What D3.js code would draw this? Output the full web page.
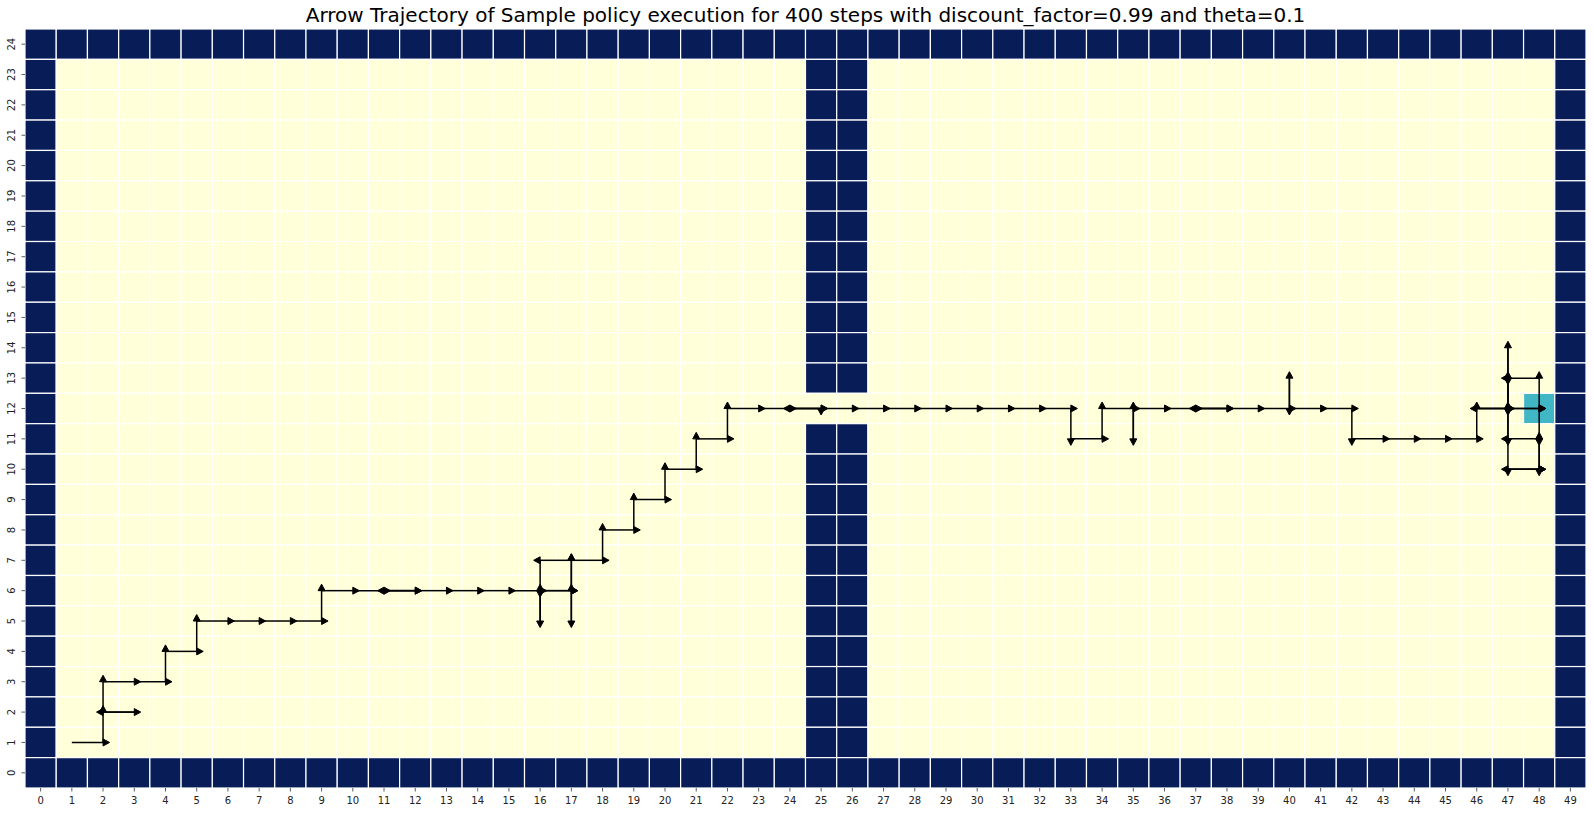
<!DOCTYPE html>
<html>
<head>
<meta charset="utf-8">
<script src="https://cdn.jsdelivr.net/npm/d3@7"></script>
<style>
  html, body { margin: 0; padding: 0; background: #ffffff; }
  svg { display: block; }
  text { font-family: "DejaVu Sans", sans-serif; }
</style>
</head>
<body>
<svg id="chart" width="1593" height="813"></svg>
<script>
// ---------------- DATA ----------------
const titleText = "Arrow Trajectory of Sample policy execution for 400 steps with discount_factor=0.99 and theta=0.1";

// column indices (x tick labels) and row indices (y tick labels)
const colLabels = d3.range(0, 50);
const rowLabels = d3.range(0, 25);

// grid rows listed from row 24 (top) down to row 0 (bottom); '#' wall, '.' free, 'G' goal
const gridRows = [
  "##################################################",
  "#........................##......................#",
  "#........................##......................#",
  "#........................##......................#",
  "#........................##......................#",
  "#........................##......................#",
  "#........................##......................#",
  "#........................##......................#",
  "#........................##......................#",
  "#........................##......................#",
  "#........................##......................#",
  "#........................##......................#",
  "#...............................................G#",
  "#........................##......................#",
  "#........................##......................#",
  "#........................##......................#",
  "#........................##......................#",
  "#........................##......................#",
  "#........................##......................#",
  "#........................##......................#",
  "#........................##......................#",
  "#........................##......................#",
  "#........................##......................#",
  "#........................##......................#",
  "##################################################"
];

const cellKinds = [".", "#", "G"];
const cellColors = ["#ffffd9", "#081d58", "#41b6c4"];

// trajectory steps: [col, row, action, moved (1) or bumped (0)]
const trajectory = [
  [1,1,"R",1],[2,1,"U",1],[2,2,"R",1],[3,2,"L",1],[2,2,"U",1],[2,3,"R",1],[3,3,"R",1],
  [4,3,"U",1],[4,4,"R",1],[5,4,"U",1],[5,5,"R",1],[6,5,"R",1],[7,5,"R",1],[8,5,"R",1],
  [9,5,"U",1],[9,6,"R",1],[10,6,"R",1],[11,6,"R",1],[12,6,"L",1],[11,6,"R",1],[12,6,"R",1],
  [13,6,"R",1],[14,6,"R",1],[15,6,"R",1],[16,6,"D",1],[16,5,"U",1],[16,6,"R",1],[17,6,"D",1],
  [17,5,"U",1],[17,6,"U",1],[17,7,"L",1],[16,7,"D",1],[16,6,"R",1],[17,6,"U",1],[17,7,"R",1],
  [18,7,"U",1],[18,8,"R",1],[19,8,"U",1],[19,9,"R",1],[20,9,"U",1],[20,10,"R",1],[21,10,"U",1],
  [21,11,"R",1],[22,11,"U",1],[22,12,"R",1],[23,12,"R",1],[24,12,"R",1],[25,12,"D",0],
  [25,12,"L",1],[24,12,"R",1],[25,12,"R",1],[26,12,"R",1],[27,12,"R",1],[28,12,"R",1],
  [29,12,"R",1],[30,12,"R",1],[31,12,"R",1],[32,12,"R",1],[33,12,"D",1],[33,11,"R",1],
  [34,11,"U",1],[34,12,"R",1],[35,12,"D",1],[35,11,"U",1],[35,12,"R",1],[36,12,"R",1],
  [37,12,"R",1],[38,12,"L",1],[37,12,"R",1],[38,12,"R",1],[39,12,"R",1],[40,12,"U",1],
  [40,13,"D",1],[40,12,"R",1],[41,12,"R",1],[42,12,"D",1],[42,11,"R",1],[43,11,"R",1],
  [44,11,"R",1],[45,11,"R",1],[46,11,"U",1],[46,12,"R",1],[47,12,"L",1],[46,12,"R",1],
  [47,12,"R",1],[48,12,"U",1],[48,13,"L",1],[47,13,"U",1],[47,14,"D",1],[47,13,"D",1],
  [47,12,"U",1],[47,13,"D",1],[47,12,"R",1],[48,12,"R",0],[48,12,"D",1],[48,11,"L",1],
  [47,11,"U",1],[47,12,"D",1],[47,11,"D",1],[47,10,"R",1],[48,10,"L",1],[47,10,"R",1],
  [48,10,"U",1],[48,11,"D",1],[48,10,"R",0]
];

// ---------------- LAYOUT ----------------
const margin = { left: 25, right: 1586, top: 29, bottom: 788 };
const svg = d3.select("#chart");

const x = d3.scaleBand().domain(colLabels).range([margin.left, margin.right]).padding(0);
const y = d3.scaleBand().domain(rowLabels.slice().reverse()).range([margin.top, margin.bottom]).padding(0);
const color = d3.scaleOrdinal().domain(cellKinds).range(cellColors);

// cells
const cells = [];
gridRows.forEach((rowStr, i) => {
  const r = 24 - i;
  for (let c = 0; c < rowStr.length; c++) cells.push({ c, r, k: rowStr[c] });
});

svg.append("g").selectAll("rect").data(cells).join("rect")
  .attr("x", d => x(d.c))
  .attr("y", d => y(d.r))
  .attr("width", x.bandwidth())
  .attr("height", y.bandwidth())
  .attr("fill", d => color(d.k))
  .attr("stroke", "#ffffff")
  .attr("stroke-width", 1.2);

// axes
const xAxis = svg.append("g")
  .attr("transform", `translate(0,${margin.bottom})`)
  .call(d3.axisBottom(x).tickSize(3.5).tickPadding(5.5));
xAxis.select(".domain").remove();
xAxis.selectAll("text").attr("font-size", 10).attr("fill", "#222").attr("font-family", "DejaVu Sans");
xAxis.selectAll("line").attr("stroke", "#333").attr("stroke-width", 0.8);

const yAxis = svg.append("g")
  .attr("transform", `translate(${margin.left},0)`)
  .call(d3.axisLeft(y).tickSize(3.5));
yAxis.select(".domain").remove();
yAxis.selectAll("line").attr("stroke", "#333").attr("stroke-width", 0.8);
yAxis.selectAll("text")
  .attr("x", null).attr("dy", null)
  .attr("text-anchor", "middle")
  .attr("transform", "translate(-10,0) rotate(-90)")
  .attr("font-size", 10).attr("fill", "#222").attr("font-family", "DejaVu Sans");

// title
svg.append("text")
  .attr("x", (margin.left + margin.right) / 2)
  .attr("y", 22)
  .attr("text-anchor", "middle")
  .attr("font-size", 20)
  .attr("fill", "#000")
  .text(titleText);

// arrows
const dirs = { R: [1, 0], L: [-1, 0], U: [0, 1], D: [0, -1] };
const cx = c => x(c) + x.bandwidth() / 2;
const cy = r => y(r) + y.bandwidth() / 2;
const headLen = 6.5, headHalf = 3.5;

const arrows = svg.append("g");
trajectory.forEach(([c, r, a, moved]) => {
  const [dc, dr] = dirs[a];
  const x0 = cx(c), y0 = cy(r);
  const x1 = moved ? cx(c + dc) : x0;
  const y1 = moved ? cy(r + dr) : y0;
  if (moved) {
    arrows.append("line")
      .attr("x1", x0).attr("y1", y0).attr("x2", x1).attr("y2", y1)
      .attr("stroke", "#000").attr("stroke-width", 1.5);
  }
  const ux = dc, uy = -dr;
  const px = -uy, py = ux;
  const tip = [x1 + ux * headLen, y1 + uy * headLen];
  const b1 = [x1 + px * headHalf, y1 + py * headHalf];
  const b2 = [x1 - px * headHalf, y1 - py * headHalf];
  arrows.append("polygon")
    .attr("points", [b1, tip, b2].map(p => p.join(",")).join(" "))
    .attr("fill", "#000").attr("stroke", "#000").attr("stroke-width", 1)
    .attr("stroke-linejoin", "miter");
});
</script>
</body>
</html>
